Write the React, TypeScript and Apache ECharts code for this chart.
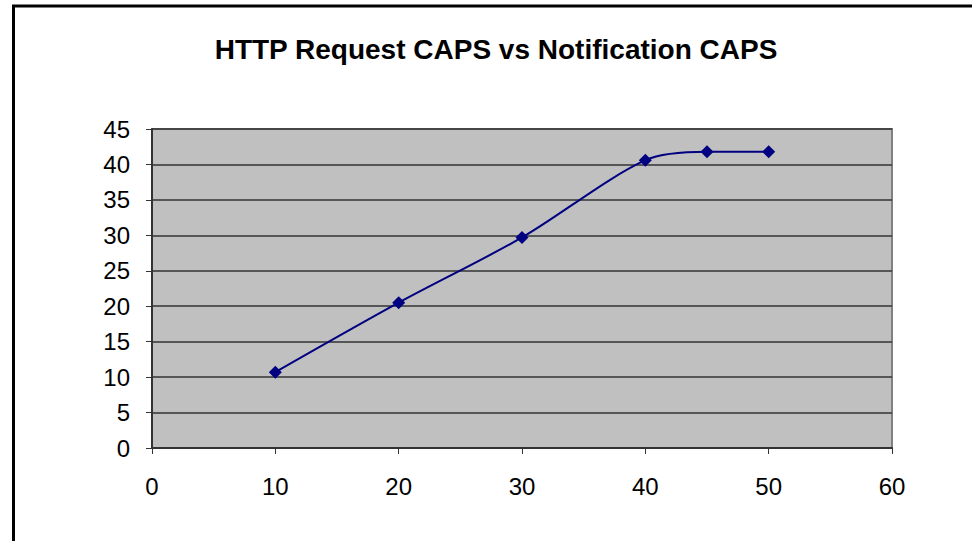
import React, { useEffect, useRef } from "react";
import * as echarts from "echarts";

const titleText = "HTTP Request CAPS vs Notification CAPS";
const xValues = [10, 20, 30, 40, 45, 50];
const yValues = [10.7, 20.5, 29.7, 40.6, 41.8, 41.8];

export default function App() {
  const ref = useRef<HTMLDivElement>(null);
  useEffect(() => {
    if (!ref.current) return;
    const chart = echarts.init(ref.current, null, { renderer: "svg" });
    chart.setOption({
      animation: false,
      backgroundColor: "#ffffff",
      title: {
        text: titleText,
        left: 491,
        textAlign: "center",
        top: 30,
        textStyle: {
          fontFamily: "Liberation Sans, Arial, sans-serif",
          fontSize: 28,
          fontWeight: "bold",
          color: "#000000",
        },
      },
      graphic: [
        {
          type: "rect",
          shape: { x: 13.5, y: 6, width: 980, height: 560 },
          style: { fill: "none", stroke: "#000000", lineWidth: 3 },
          silent: true,
          z: 10,
        },
      ],
      grid: {
        left: 152,
        top: 129,
        right: 80,
        bottom: 93,
        show: true,
        backgroundColor: "#C0C0C0",
        borderColor: "#808080",
        borderWidth: 2,
      },
      xAxis: {
        type: "value",
        min: 0,
        max: 60,
        interval: 10,
        axisLine: { show: true, onZero: false, lineStyle: { color: "#333333", width: 2 } },
        axisTick: { show: true, length: 6, lineStyle: { color: "#333333", width: 1 } },
        splitLine: { show: false },
        axisLabel: {
          margin: 26,
          fontFamily: "Liberation Sans, Arial, sans-serif",
          fontSize: 24,
          color: "#000000",
        },
      },
      yAxis: {
        type: "value",
        min: 0,
        max: 45,
        interval: 5,
        axisLine: { show: true, onZero: false, lineStyle: { color: "#333333", width: 2 } },
        axisTick: { show: true, length: 6, lineStyle: { color: "#333333", width: 1 } },
        splitLine: { show: true, lineStyle: { color: "#333333", width: 1.5 } },
        axisLabel: {
          margin: 22,
          fontFamily: "Liberation Sans, Arial, sans-serif",
          fontSize: 24,
          color: "#000000",
        },
      },
      series: [
        {
          type: "line",
          data: xValues.map((x, i) => [x, yValues[i]]),
          smooth: 0.3,
          symbol: "diamond",
          symbolSize: 13,
          lineStyle: { color: "#000080", width: 2 },
          itemStyle: { color: "#000080" },
        },
      ],
    });
    return () => chart.dispose();
  }, []);
  return (
    <div
      ref={ref}
      style={{ position: "fixed", left: 0, top: 0, width: 972, height: 541 }}
    />
  );
}
